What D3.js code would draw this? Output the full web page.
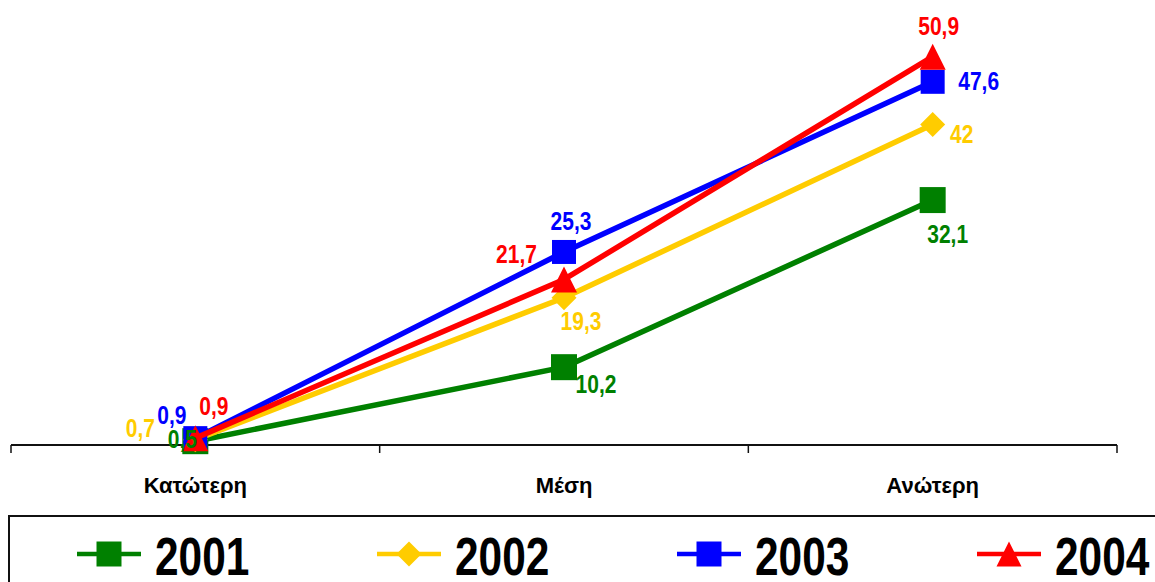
<!DOCTYPE html>
<html><head><meta charset="utf-8">
<script src="https://cdnjs.cloudflare.com/ajax/libs/d3/7.8.5/d3.min.js"></script>
<style>
html,body{margin:0;padding:0;background:#fff;overflow:hidden}
svg{display:block}
</style></head>
<body>
<svg id="chart" width="1155" height="582"></svg>
<script>
// ---- data ----
const categories = ["Κατώτερη", "Μέση", "Ανώτερη"];
const years = ["2001", "2002", "2003", "2004"];
const values2001 = [0.5, 10.2, 32.1];
const values2002 = [0.7, 19.3, 42];
const values2003 = [0.9, 25.3, 47.6];
const values2004 = [0.9, 21.7, 50.9];
const yDomain = [0, 60];

// ---- styling / layout (not data) ----
const colors = ["#008000", "#FFCC00", "#0000FF", "#FF0000"];
const markers = ["square", "diamond", "square", "triangle"];
const labelOffsets = [
  [[-13, 7], [32, 26], [15, 43]],
  [[-55, -3], [17, 32], [29, 18]],
  [[-23.5, -14], [7, -22], [46, 8]],
  [[18.5, -23], [-47.5, -16], [6, -22]]
];

const series = years.map((y, i) => ({
  year: y,
  values: [values2001, values2002, values2003, values2004][i],
  color: colors[i], marker: markers[i], offsets: labelOffsets[i]
}));

const svg = d3.select("#chart");
const FONT = "'Liberation Sans', Arial, sans-serif";
const NARROW = 0.84;

const x = d3.scaleBand().domain(categories).range([11, 1117]).padding(0);
const y = d3.scaleLinear().domain(yDomain).range([445, 445 - 7.63 * 60]);
const cx = c => x(c) + x.bandwidth() / 2;

// axis
const axis = d3.axisBottom(x).tickSize(0).tickPadding(0);
const gAxis = svg.append("g").attr("transform", "translate(0,445)").call(axis);
gAxis.select(".domain").remove();
gAxis.selectAll(".tick text").remove();
gAxis.append("line").attr("x1", 11).attr("x2", 1117).attr("y1", 0).attr("y2", 0)
  .attr("stroke", "#111").attr("stroke-width", 2);
const tickXs = categories.map(c => x(c)).concat([x.range()[1]]);
gAxis.selectAll(".vtick").data(tickXs).enter().append("line")
  .attr("x1", d => d).attr("x2", d => d).attr("y1", 0).attr("y2", 8)
  .attr("stroke", "#111").attr("stroke-width", 1.5);
svg.append("g").selectAll("text").data(categories).enter().append("text")
  .attr("x", d => cx(d)).attr("y", 493).attr("text-anchor", "middle")
  .attr("font-family", FONT).attr("font-weight", "bold")
  .attr("font-size", 22).attr("fill", "#000").text(d => d);

function markerPath(type, s) {
  const h = s / 2;
  if (type === "square") return `M${-h},${-h}H${h}V${h}H${-h}Z`;
  if (type === "diamond") return `M0,${-h}L${h},0L0,${h}L${-h},0Z`;
  if (type === "triangle") return `M0,${-h}L${h},${h}L${-h},${h}Z`;
}
const markerSize = {square: 24, diamond: 25, triangle: 26};

const line = d3.line().x((d, i) => cx(categories[i])).y(d => y(d));

const gSeries = svg.append("g");
series.forEach(s => {
  const g = gSeries.append("g");
  g.append("path").attr("d", line(s.values)).attr("fill", "none")
    .attr("stroke", s.color).attr("stroke-width", 5.5).attr("stroke-linejoin", "round");
  g.selectAll(".m").data(s.values).enter().append("path")
    .attr("transform", (d, i) => `translate(${cx(categories[i])},${y(d)})`)
    .attr("d", markerPath(s.marker, s.year === "2001" ? 26 : markerSize[s.marker]))
    .attr("fill", s.color);
});

// data labels on top
const gLabels = svg.append("g");
series.forEach(s => {
  gLabels.selectAll(null).data(s.values).enter().append("text")
    .attr("transform", (d, i) =>
      `translate(${cx(categories[i]) + s.offsets[i][0]},${y(d) + s.offsets[i][1]}) scale(${NARROW},1)`)
    .attr("text-anchor", "middle")
    .attr("font-family", FONT).attr("font-weight", "bold")
    .attr("font-size", 25).attr("fill", s.color)
    .text(d => String(d).replace(".", ","));
});

// legend
const gLeg = svg.append("g");
gLeg.append("rect").attr("x", 9).attr("y", 516).attr("width", 1200).attr("height", 120)
  .attr("fill", "none").attr("stroke", "#111").attr("stroke-width", 2);
series.forEach((s, i) => {
  const x0 = 77 + i * 300;
  const g = gLeg.append("g");
  g.append("line").attr("x1", x0).attr("x2", x0 + 64).attr("y1", 554).attr("y2", 554)
    .attr("stroke", s.color).attr("stroke-width", 4.5);
  g.append("path").attr("transform", `translate(${x0 + 32},554)`)
    .attr("d", markerPath(s.marker, 25)).attr("fill", s.color);
  g.append("text").attr("transform", `translate(${x0 + 78},575) scale(0.8,1)`)
    .attr("font-family", FONT).attr("font-weight", "bold")
    .attr("font-size", 53).attr("fill", "#000").text(s.year);
});
</script>
</body></html>
